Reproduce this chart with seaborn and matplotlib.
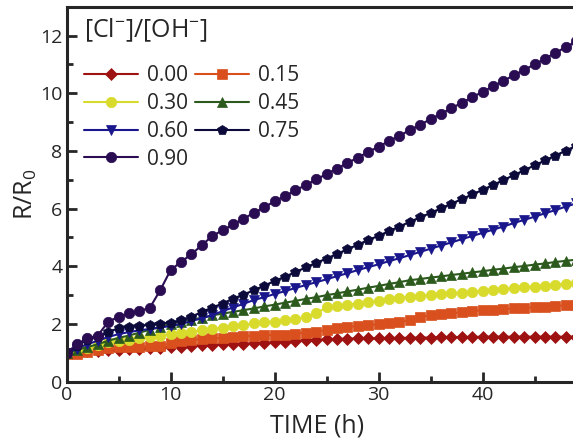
import numpy as np
import pandas as pd
import matplotlib
matplotlib.use("Agg")
import matplotlib.pyplot as plt
import seaborn as sns

time_h = list(range(0, 50))

r_000 = [1.0, 1.02, 1.05, 1.07, 1.09, 1.11, 1.13, 1.15, 1.16, 1.18, 1.2, 1.22, 1.24, 1.26, 1.27, 1.29, 1.3, 1.32,
         1.33, 1.35, 1.37, 1.39, 1.41, 1.43, 1.45, 1.47, 1.48, 1.49, 1.5, 1.5, 1.5, 1.51, 1.52, 1.52, 1.53, 1.53,
         1.54, 1.54, 1.55, 1.55, 1.56, 1.56, 1.56, 1.56, 1.56, 1.56, 1.56, 1.56, 1.56, 1.56]
r_015 = [0.95, 0.95, 1.04, 1.1, 1.16, 1.2, 1.21, 1.22, 1.23, 1.25, 1.33, 1.42, 1.45, 1.48, 1.5, 1.52, 1.55, 1.57,
         1.6, 1.61, 1.62, 1.63, 1.67, 1.7, 1.74, 1.79, 1.85, 1.9, 1.93, 1.96, 1.99, 2.02, 2.07, 2.13, 2.25, 2.3,
         2.34, 2.37, 2.41, 2.45, 2.48, 2.5, 2.52, 2.54, 2.56, 2.58, 2.6, 2.62, 2.65, 2.67]
r_030 = [1.0, 1.1, 1.18, 1.28, 1.38, 1.42, 1.46, 1.5, 1.55, 1.6, 1.65, 1.7, 1.74, 1.78, 1.82, 1.87, 1.92, 1.96,
         2.02, 2.06, 2.08, 2.13, 2.18, 2.23, 2.37, 2.58, 2.63, 2.67, 2.71, 2.76, 2.8, 2.85, 2.89, 2.94, 2.97, 3.0,
         3.03, 3.06, 3.09, 3.12, 3.15, 3.18, 3.21, 3.24, 3.27, 3.3, 3.33, 3.36, 3.39, 3.42]
r_045 = [1.0, 1.1, 1.2, 1.3, 1.42, 1.52, 1.6, 1.7, 1.8, 1.9, 2.0, 2.08, 2.15, 2.22, 2.3, 2.36, 2.42, 2.48,
         2.54, 2.61, 2.67, 2.74, 2.8, 2.87, 2.93, 3.0, 3.06, 3.13, 3.19, 3.26, 3.32, 3.39, 3.45, 3.52, 3.56, 3.61,
         3.65, 3.7, 3.74, 3.79, 3.83, 3.88, 3.92, 3.97, 4.01, 4.06, 4.1, 4.15, 4.19, 4.23]
r_060 = [1.0, 1.15, 1.3, 1.42, 1.55, 1.65, 1.72, 1.78, 1.83, 1.88, 1.93, 2.0, 2.1, 2.2, 2.3, 2.45, 2.57, 2.7,
         2.83, 2.93, 3.04, 3.14, 3.25, 3.35, 3.45, 3.55, 3.66, 3.76, 3.87, 3.97, 4.07, 4.18, 4.28, 4.39, 4.5, 4.61,
         4.72, 4.83, 4.94, 5.05, 5.16, 5.27, 5.38, 5.5, 5.61, 5.72, 5.84, 5.95, 6.07, 6.18]
r_075 = [1.0, 1.25, 1.45, 1.55, 1.73, 1.85, 1.9, 1.93, 1.97, 2.0, 2.05, 2.13, 2.25, 2.42, 2.57, 2.71, 2.88, 3.02,
         3.17, 3.33, 3.49, 3.64, 3.8, 3.96, 4.12, 4.27, 4.43, 4.59, 4.75, 4.91, 5.06, 5.22, 5.38, 5.54, 5.7, 5.85,
         6.01, 6.17, 6.33, 6.49, 6.65, 6.82, 6.99, 7.16, 7.33, 7.5, 7.67, 7.84, 8.01, 8.18]
r_090 = [1.0, 1.3, 1.5, 1.6, 2.08, 2.25, 2.37, 2.45, 2.56, 3.17, 3.87, 4.15, 4.42, 4.73, 5.05, 5.25, 5.45, 5.65,
         5.85, 6.05, 6.25, 6.44, 6.63, 6.82, 7.01, 7.2, 7.39, 7.58, 7.77, 7.96, 8.15, 8.34, 8.53, 8.72, 8.91, 9.1,
         9.29, 9.48, 9.67, 9.86, 10.05, 10.24, 10.43, 10.62, 10.81, 11.0, 11.2, 11.4, 11.6, 11.8]

labels = ["0.00", "0.15", "0.30", "0.45", "0.60", "0.75", "0.90"]
series = [r_000, r_015, r_030, r_045, r_060, r_075, r_090]
colors = ["#9E1212", "#D9501E", "#D8DA2C", "#2B5A1C", "#1A178C", "#0B0A3A", "#2A0C52"]
markers = ["D", "s", "o", "^", "v", "p", "o"]
msizes = [6.5, 7, 7.5, 7.5, 7.5, 7.5, 7.5]

sns.set_style("ticks")
plt.rcParams["font.family"] = ["Open Sans", "DejaVu Sans"]
plt.rcParams["mathtext.default"] = "regular"

fig = plt.figure(figsize=(5.73, 4.43), dpi=100)
W, H = 573.0, 443.0
ax = fig.add_axes([66.6 / W, 61.3 / H, 520 / W, 375 / H])

for lab, vals, c, m, ms in zip(labels, series, colors, markers, msizes):
    df = pd.DataFrame({"t": time_h, "r": vals})
    sns.lineplot(data=df, x="t", y="r", ax=ax, color=c, marker=m, markersize=ms,
                 markeredgewidth=0.5, markeredgecolor=c, linewidth=1.5, label=lab)

ax.set_xlim(0, 50)
ax.set_ylim(0, 13)
ax.set_xticks([0, 10, 20, 30, 40])
ax.set_yticks([0, 2, 4, 6, 8, 10, 12])
ax.set_xticks([5, 15, 25, 35, 45], minor=True)
ax.set_yticks([1, 3, 5, 7, 9, 11], minor=True)
ax.tick_params(axis="both", which="major", direction="in", length=7, width=2, labelsize=14, pad=3)
ax.tick_params(axis="both", which="minor", direction="in", length=4, width=2)
for s in ax.spines.values():
    s.set_linewidth(2.2)

ax.set_xlabel("TIME (h)", fontsize=18)
ax.set_ylabel("R/R$_0$", fontsize=18)
ax.xaxis.set_label_coords(250 / 520, -0.085)
ax.yaxis.set_label_coords(-0.054, 0.5)

h, l = ax.get_legend_handles_labels()
order = [0, 2, 4, 6, 1, 3, 5]
leg = ax.legend([h[i] for i in order], [l[i] for i in order], title="[Cl$^{-}$]/[OH$^{-}$]",
                ncol=2, loc="upper left",
                bbox_to_anchor=(0.005, 1.012), frameon=False, fontsize=15, title_fontsize=18,
                handlelength=2.6, handletextpad=0.45, columnspacing=0.3, labelspacing=0.33,
                borderpad=0.2, alignment="left")
leg._legend_box.sep = 15

fig.savefig("out.png", dpi=100)
